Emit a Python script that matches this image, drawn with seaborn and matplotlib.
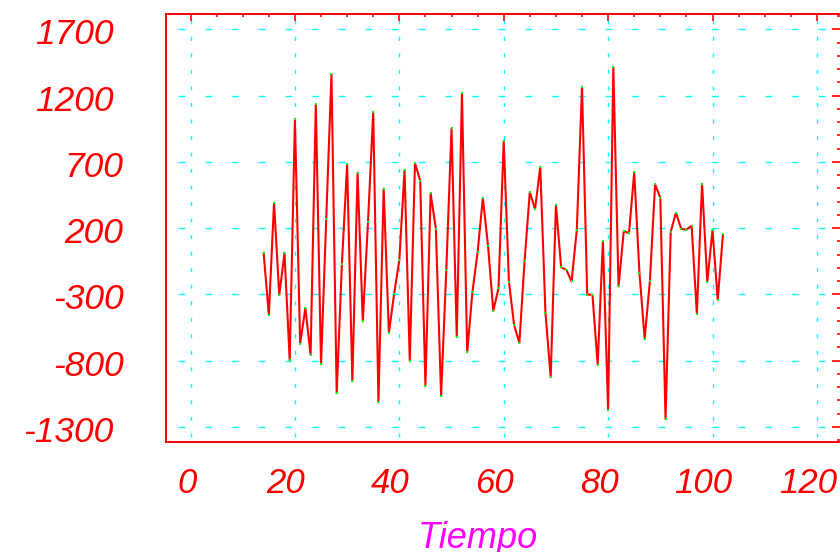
import numpy as np
import pandas as pd
import matplotlib
matplotlib.use("Agg")
import matplotlib.pyplot as plt
import matplotlib.transforms as mtransforms
from matplotlib.ticker import FixedLocator, MultipleLocator
import seaborn as sns

# serie (un valor por paso de tiempo, t = 14 .. 102)
tiempo = np.arange(14, 103)
valores = [15, -453, 392, -304, 11, -797, 1024, -672, -404, -755,
           1137, -827, 272, 1364, -1046, -70, 682, -955, 619, -503,
           247, 1077, -1109, 498, -589, -297, -42, 639, -802, 692,
           559, -989, 463, 196, -1064, -115, 954, -619, 1218, -737,
           -284, 20, 428, 66, -423, -254, 860, -206, -533, -664,
           -45, 473, 343, 664, -442, -925, 377, -95, -115, -201,
           186, 1268, -302, -302, -830, 101, -1170, 1417, -239, 179,
           162, 622, -136, -634, -201, 531, 430, -1240, 174, 317,
           196, 189, 219, -445, 536, -204, 186, -340, 154]

xticks = [0, 20, 40, 60, 80, 100, 120]
yticks = [-1300, -800, -300, 200, 700, 1200, 1700]

RED = "#ff0000"
GREEN = "#00ff00"
CYAN = "#00ffff"
MAGENTA = "#ff00ff"

sns.set_style("white")
plt.rcParams["font.family"] = "Liberation Sans"
plt.rcParams["font.style"] = "italic"

df = pd.DataFrame({"Tiempo": tiempo, "Valor": valores})

fig = plt.figure(figsize=(8.4, 5.52), dpi=100)
ax = fig.add_axes([166 / 840, (552 - 442.3) / 552, (843 - 166) / 840, (442.3 - 14) / 552])

sns.lineplot(data=df, x="Tiempo", y="Valor", ax=ax, color=RED, lw=1.5,
             marker="s", markersize=2, markerfacecolor=GREEN,
             markeredgecolor=GREEN, markeredgewidth=0, zorder=3)

ax.set_xlim(-4.7, 125)
ax.set_ylim(-1416, 1817)
ax.xaxis.set_major_locator(FixedLocator(xticks))
ax.xaxis.set_minor_locator(MultipleLocator(5))
ax.yaxis.set_major_locator(FixedLocator(yticks))
ax.yaxis.set_minor_locator(MultipleLocator(100))
ax.set_xticklabels([str(t) for t in xticks])
ax.set_yticklabels([str(t) for t in yticks])

# rejilla cian: horizontal a trazos, vertical punteada
ax.set_axisbelow(True)
ax.yaxis.grid(True, color=CYAN, lw=1, linestyle=(10.3, (4.8, 14.4)))
ax.xaxis.grid(True, color=CYAN, lw=1, linestyle=(8.3, (2.9, 9.0)))

for sp in ax.spines.values():
    sp.set_color(RED)
    sp.set_linewidth(1.4)

ax.tick_params(axis="x", which="major", direction="in", length=4.7, width=1.2,
               colors=RED, top=True, labelsize=25, pad=18)
ax.tick_params(axis="x", which="minor", direction="in", length=2.4, width=1.2,
               colors=RED, top=True)
ax.tick_params(axis="y", which="major", direction="in", length=8, width=1.2,
               colors=RED, right=True, labelsize=25.5, pad=32)
ax.tick_params(axis="y", which="minor", direction="in", length=4.3, width=1.2,
               colors=RED, right=True)

ax.set_ylabel("")
ax.set_xlabel("Tiempo", color=MAGENTA, fontsize=26)
ax.xaxis.set_label_coords(0.461, -0.183)

# desplazamientos de las etiquetas como en el original (IDL)
for lab in ax.get_xticklabels():
    shift = -3 if lab.get_text() == "0" else -9
    off = mtransforms.ScaledTranslation(shift / 100, 0, fig.dpi_scale_trans)
    lab.set_transform(lab.get_transform() + off)
for lab in ax.get_yticklabels():
    shift = -8 if "1" in lab.get_text() else 2
    off = mtransforms.ScaledTranslation(shift / 100, -2 / 100, fig.dpi_scale_trans)
    lab.set_transform(lab.get_transform() + off)

fig.savefig("out.png", dpi=100)
